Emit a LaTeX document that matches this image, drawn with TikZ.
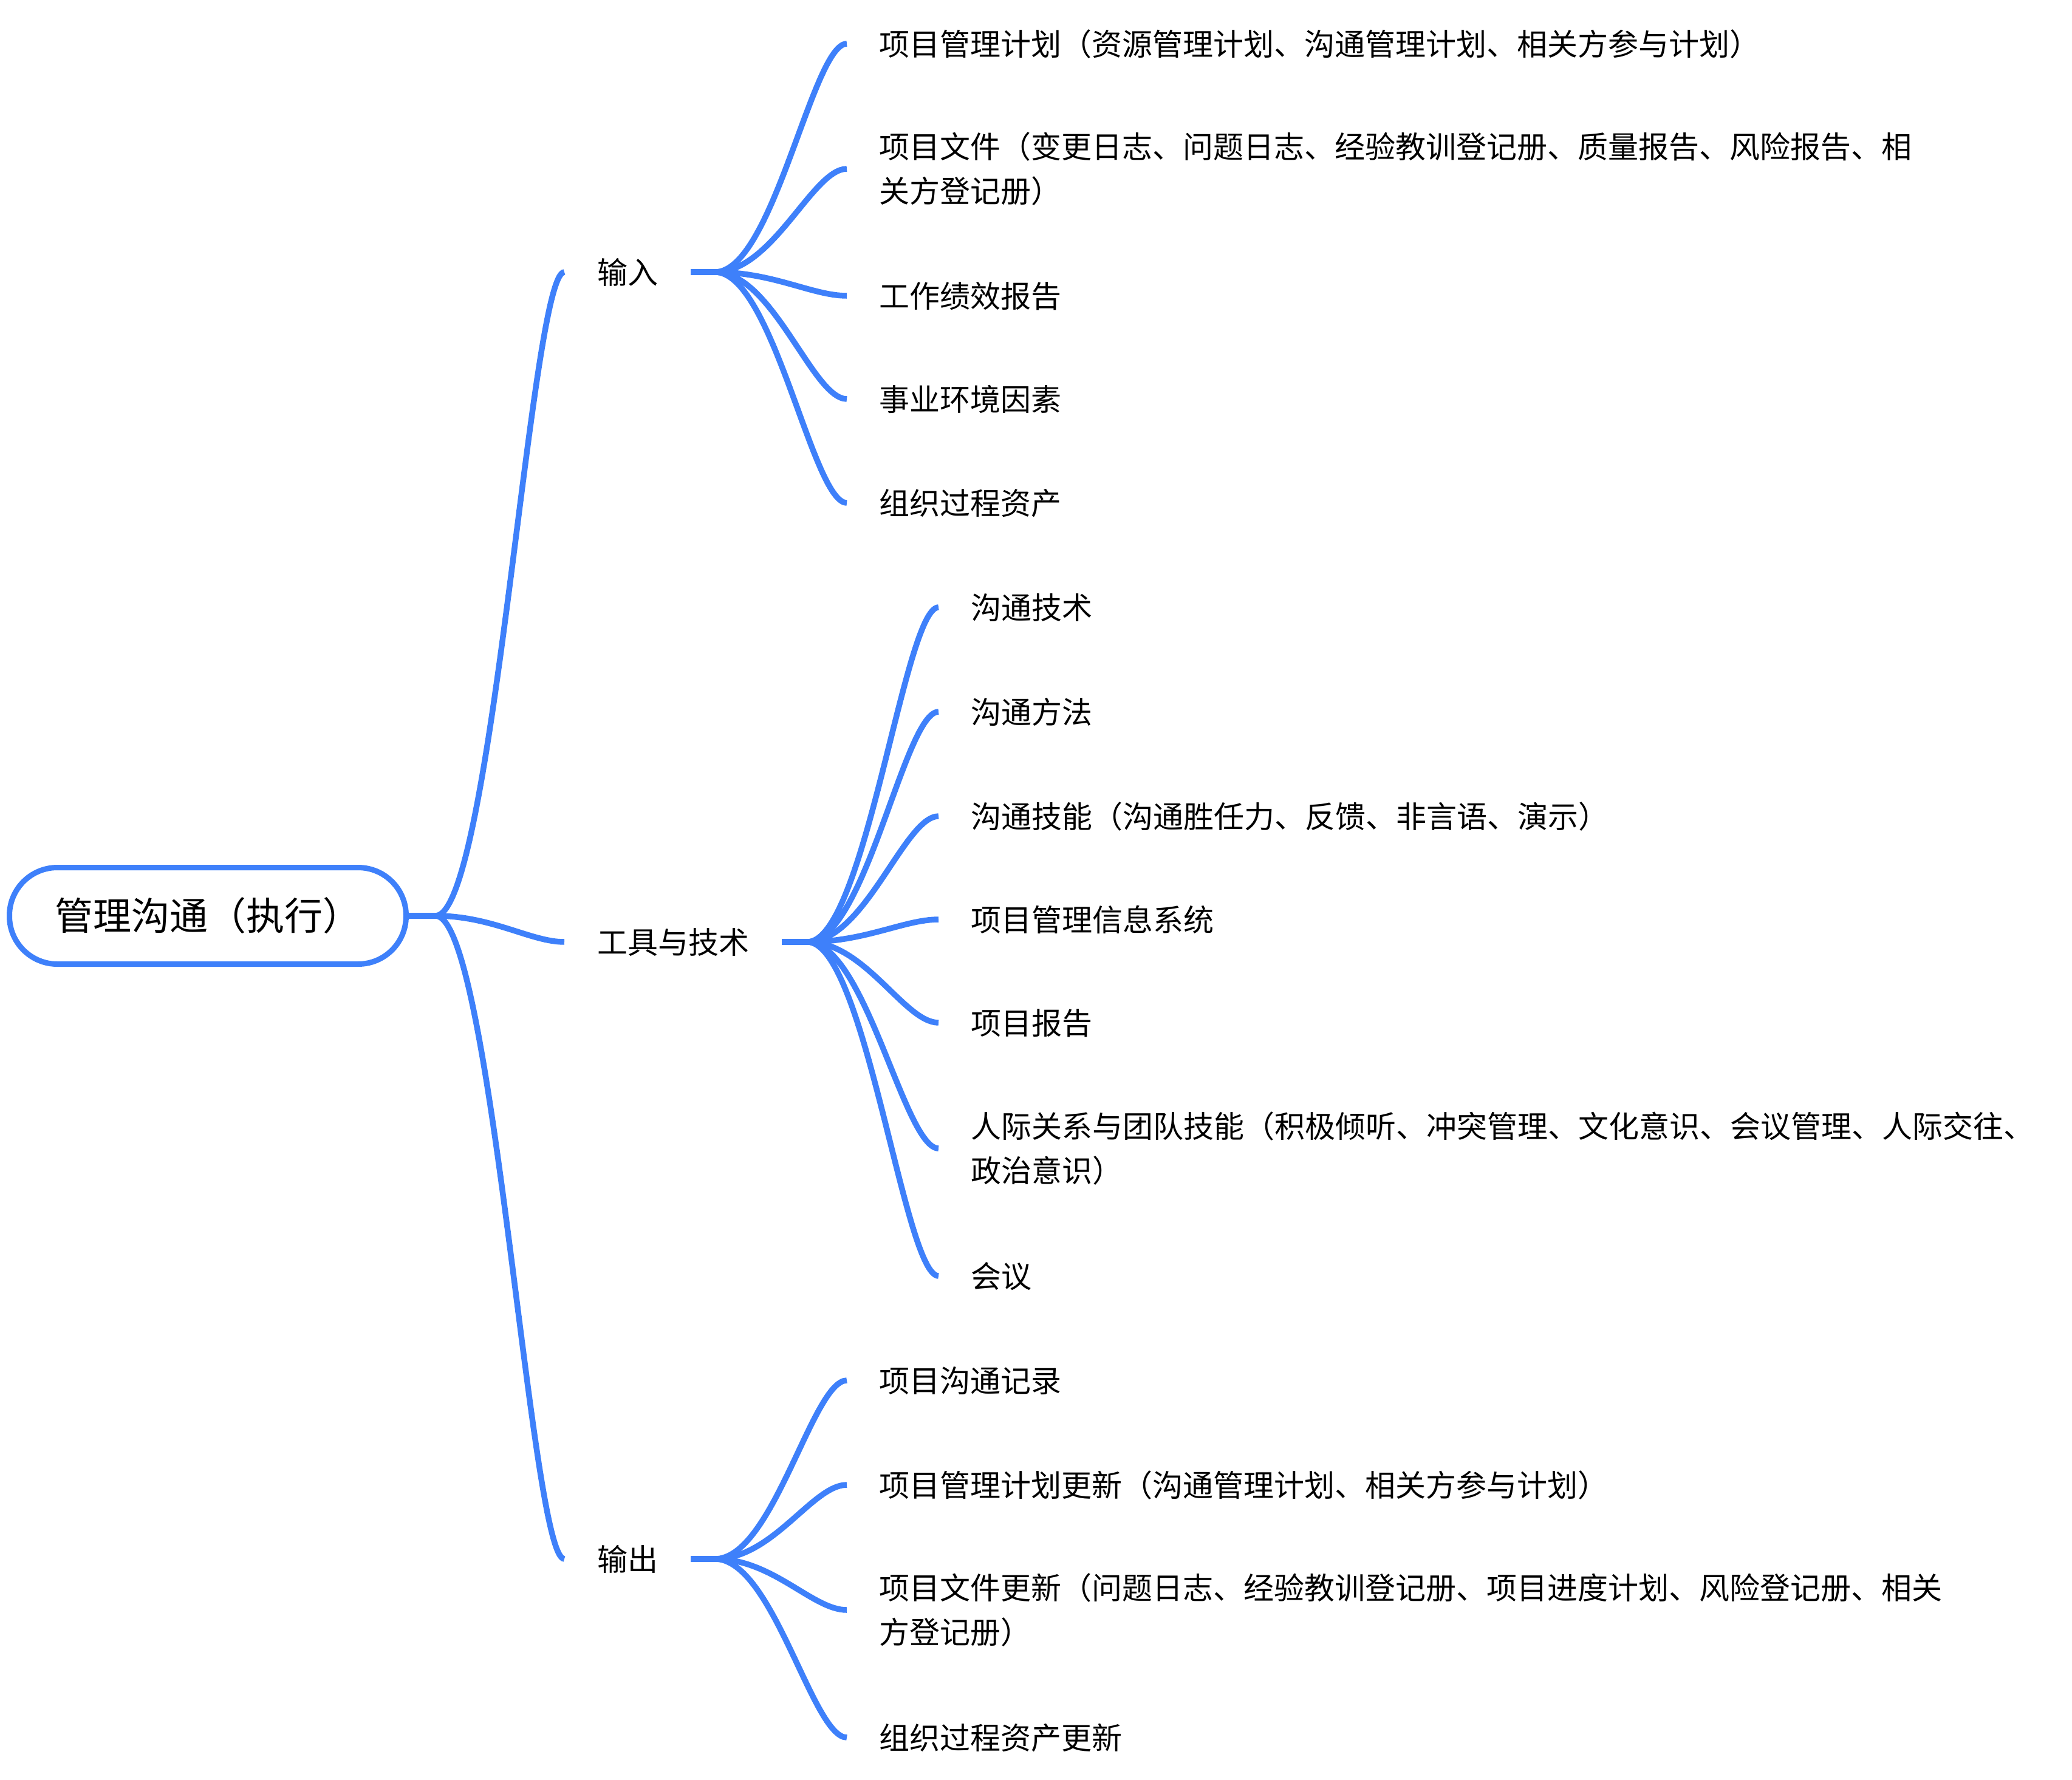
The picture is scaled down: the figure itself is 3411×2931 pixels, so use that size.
\documentclass[tikz,border=0pt]{standalone}
\usepackage{fontspec}
\setmainfont{Noto Sans CJK SC}
\usetikzlibrary{calc}
\definecolor{mapblue}{RGB}{62,128,250}
\newcommand\cjkstrut{\rule[-0.12em]{0pt}{1em}}
% #1 parent node, #2 stub length, #3 child node
\newcommand\bcurve[3]{%
  \draw[conn] (#1.east) -- ++(#2,0) coordinate (bcS)
    let \p1=(bcS), \p2=(#3.west) in
    .. controls ({\x1+0.44*(\x2-\x1)},\y1) and ({\x2-0.26*(\x2-\x1)},\y2) .. (#3.west);}
\begin{document}
\begin{tikzpicture}[x=1pt,y=-1pt,
  conn/.style={draw=mapblue,line width=9.5pt},
  rootbox/.style={draw=mapblue,line width=9pt,rounded corners=79pt,fill=white,
     minimum width=653pt,minimum height=159pt,inner sep=0pt,
     font=\fontsize{63}{63}\selectfont},
  branchtext/.style={anchor=west,inner xsep=54pt,inner ysep=0pt,outer sep=0pt,
     font=\fontsize{50}{73}\selectfont},
  leaf/.style={anchor=west,inner xsep=53pt,inner ysep=0pt,outer sep=0pt,align=left,
     font=\fontsize{50}{73}\selectfont}]
\fill[white] (0,0) rectangle (3411,2931);
\useasboundingbox (0,0) rectangle (3411,2931);

% root
\node[rootbox] (root) at (342,1508) {\cjkstrut 管理沟通（执行）};

% branches
\node[branchtext] (in) at (929,448) {\cjkstrut 输入};
\node[branchtext] (tools) at (929,1551) {\cjkstrut 工具与技术};
\node[branchtext] (out) at (929,2567) {\cjkstrut 输出};

% input leaves
\node[leaf] (i1) at (1394,72) {\cjkstrut 项目管理计划（资源管理计划、沟通管理计划、相关方参与计划）};
\node[leaf] (i2) at (1394,278) {\cjkstrut 项目文件（变更日志、问题日志、经验教训登记册、质量报告、风险报告、相\\\cjkstrut 关方登记册）};
\node[leaf] (i3) at (1394,487) {\cjkstrut 工作绩效报告};
\node[leaf] (i4) at (1394,657) {\cjkstrut 事业环境因素};
\node[leaf] (i5) at (1394,828) {\cjkstrut 组织过程资产};

% tools leaves
\node[leaf] (t1) at (1545,1000) {\cjkstrut 沟通技术};
\node[leaf] (t2) at (1545,1172) {\cjkstrut 沟通方法};
\node[leaf] (t3) at (1545,1344) {\cjkstrut 沟通技能（沟通胜任力、反馈、非言语、演示）};
\node[leaf] (t4) at (1545,1514) {\cjkstrut 项目管理信息系统};
\node[leaf] (t5) at (1545,1684) {\cjkstrut 项目报告};
\node[leaf] (t6) at (1545,1891) {\cjkstrut 人际关系与团队技能（积极倾听、冲突管理、文化意识、会议管理、人际交往、\\\cjkstrut 政治意识）};
\node[leaf] (t7) at (1545,2101) {\cjkstrut 会议};

% output leaves
\node[leaf] (o1) at (1394,2273) {\cjkstrut 项目沟通记录};
\node[leaf] (o2) at (1394,2445) {\cjkstrut 项目管理计划更新（沟通管理计划、相关方参与计划）};
\node[leaf] (o3) at (1394,2651) {\cjkstrut 项目文件更新（问题日志、经验教训登记册、项目进度计划、风险登记册、相关\\\cjkstrut 方登记册）};
\node[leaf] (o4) at (1394,2861) {\cjkstrut 组织过程资产更新};

% connectors
\bcurve{root}{44}{in}
\bcurve{root}{44}{tools}
\bcurve{root}{44}{out}
\bcurve{in}{40}{i1}
\bcurve{in}{40}{i2}
\bcurve{in}{40}{i3}
\bcurve{in}{40}{i4}
\bcurve{in}{40}{i5}
\bcurve{tools}{42}{t1}
\bcurve{tools}{42}{t2}
\bcurve{tools}{42}{t3}
\bcurve{tools}{42}{t4}
\bcurve{tools}{42}{t5}
\bcurve{tools}{42}{t6}
\bcurve{tools}{42}{t7}
\bcurve{out}{40}{o1}
\bcurve{out}{40}{o2}
\bcurve{out}{40}{o3}
\bcurve{out}{40}{o4}
\end{tikzpicture}
\end{document}
